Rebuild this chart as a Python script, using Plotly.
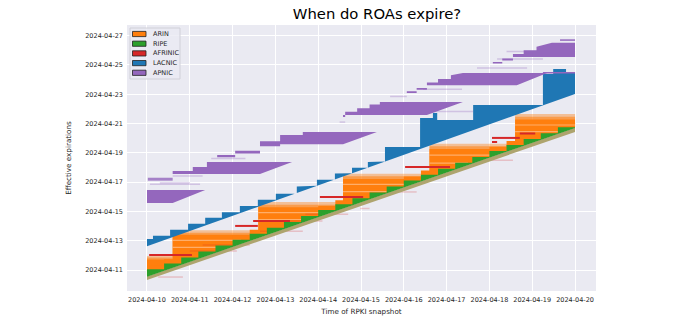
import numpy as np
import pandas as pd
import plotly.graph_objects as go

BASE = pd.Timestamp("2024-04-10 00:00")

# ---------------- data: days since 2024-04-10 00:00 (x = snapshot, y = expiry) ----------------
# ARIN (orange): refresh blocks every ~2 days + fine sawtooth
ARIN_BLOCK_T = [0.0, 0.6, 2.6, 4.58, 6.6, 8.6]
ARIN_TOP_LIGHT = [1.95, 3.72, 5.64, 7.58, 9.62, 11.65]
ARIN_TOP_MID = [1.85, 3.55, 5.45, 7.40, 9.45, 11.47]
ARIN_TOP_SOLID = [1.72, 3.40, 5.28, 7.22, 9.27, 11.27]
ARIN_STEP_T = [0.0, 0.4, 0.8, 1.2, 1.6, 2.0, 2.4, 2.8, 3.2, 3.6, 4.0, 4.4, 4.8,
               5.2, 5.6, 6.0, 6.4, 6.8, 7.2, 7.6, 8.0, 8.4, 8.8, 9.2, 9.6]
ARIN_STEP_TOP = [1.33, 1.73, 2.14, 2.54, 2.95, 3.35, 3.75, 4.16, 4.56, 4.97, 5.37, 5.77, 6.18,
                 6.58, 6.99, 7.39, 7.79, 8.20, 8.60, 9.00, 9.41, 9.81, 10.22, 10.62, 11.03]
ARIN_LOW_T = [0.0, 10.0]
ARIN_LOW_Y = [0.60, 10.75]
# lighter streaks inside the ARIN blocks
ARIN_STREAK_T0 = [0.6, 0.6, 2.6, 2.6, 4.58, 4.58, 6.6, 6.6, 8.6, 8.6]
ARIN_STREAK_T1 = [2.2, 1.7, 4.1, 3.6, 6.1, 5.6, 8.1, 7.5, 10.0, 9.7]
ARIN_STREAK_Y = [3.02, 2.55, 4.92, 4.45, 6.85, 6.35, 8.85, 8.30, 10.90, 10.45]

# RIPE (green): sawtooth above a diagonal floor
RIPE_STEP_T = [0.0, 0.4, 0.8, 1.2, 1.6, 2.0, 2.4, 2.8, 3.2, 3.6, 4.0, 4.4, 4.8,
               5.2, 5.6, 6.0, 6.4, 6.8, 7.2, 7.6, 8.0, 8.4, 8.8, 9.2, 9.6]
RIPE_STEP_TOP = [1.05, 1.45, 1.86, 2.26, 2.67, 3.07, 3.47, 3.88, 4.28, 4.69, 5.09, 5.49, 5.90,
                 6.30, 6.71, 7.11, 7.51, 7.92, 8.32, 8.72, 9.13, 9.53, 9.94, 10.34, 10.75]
RIPE_LOW_T = [0.0, 10.0]
RIPE_LOW_Y = [0.54, 10.70]
MIX_LOW_Y = [0.32, 10.43]     # faint mixed (olive) band below the green
MIX_HIGH_Y = [0.56, 10.72]

# AFRINIC (red): short horizontal runs (start, end, expiry)
AFRINIC_T0 = [0.05, 2.06, 2.48, 4.04, 6.03, 8.06, 8.71, 8.06]
AFRINIC_T1 = [1.05, 2.59, 3.34, 5.05, 7.08, 8.71, 9.07, 8.18]
AFRINIC_Y = [2.02, 4.01, 4.35, 5.99, 8.04, 10.02, 10.32, 9.74]
# faint pink streaks
FAINT_T0 = [0.26, 1.00, 2.64, 3.10, 4.98, 5.68, 7.78, 1.30, 3.70]
FAINT_T1 = [0.84, 2.10, 3.64, 4.10, 5.20, 6.30, 8.55, 2.40, 4.70]
FAINT_Y = [0.52, 2.30, 3.65, 4.35, 5.20, 6.33, 8.50, 2.70, 4.80]

# LACNIC (blue): step tops above a diagonal floor
LACNIC_STEP_T = [0.0, 0.14, 0.54, 0.96, 1.36, 1.75, 2.17, 2.59, 3.01, 3.50, 3.97, 4.39, 4.79,
                 5.16, 5.56, 6.38, 6.68, 6.78, 7.62, 9.25, 9.49, 9.79]
LACNIC_STEP_TOP = [3.12, 3.34, 3.74, 4.16, 4.56, 4.95, 5.37, 5.79, 6.21, 6.70, 7.17, 7.59, 7.99,
                   8.38, 9.40, 11.38, 11.72, 11.25, 12.27, 14.39, 14.73, 14.46]
LACNIC_LOW_T = [0.0, 10.0]
LACNIC_LOW_Y = [2.62, 13.02]

# APNIC (purple): parallelogram blocks (snapshot, low, high)
APNIC_A_T = [0.0, 0.6, 1.36]
APNIC_A_LO = [5.58, 5.58, 6.46]
APNIC_A_HI = [6.46, 6.46, 6.46]
APNIC_B_T = [0.6, 1.07, 1.07, 1.40, 1.40, 2.64, 3.39]
APNIC_B_LO = [7.55, 7.55, 7.55, 7.55, 7.55, 7.55, 8.38]
APNIC_B_HI = [7.76, 7.76, 8.04, 8.04, 8.38, 8.38, 8.38]
APNIC_B0_T = [0.02, 0.6]
APNIC_B0_LO = [7.10, 7.10]
APNIC_B0_HI = [7.30, 7.30]
APNIC_C_T = [1.64, 2.06, 2.06, 2.64, 2.64, 3.11, 3.11, 3.64, 3.64, 4.58, 5.37]
APNIC_C_LO = [8.70, 8.70, 8.95, 8.95, 9.45, 9.45, 9.58, 9.58, 9.58, 9.58, 10.43]
APNIC_C_HI = [8.85, 8.85, 9.15, 9.15, 9.80, 9.80, 10.22, 10.22, 10.43, 10.43, 10.43]
APNIC_D_T = [4.58, 4.63, 4.63, 4.91, 4.91, 5.20, 5.20, 5.44, 5.44, 6.54, 7.38]
APNIC_D_LO = [11.45, 11.45, 11.59, 11.59, 11.59, 11.59, 11.59, 11.59, 11.59, 11.59, 12.48]
APNIC_D_HI = [11.59, 11.59, 11.80, 11.80, 12.05, 12.05, 12.30, 12.30, 12.48, 12.48, 12.48]
APNIC_E_T = [6.07, 6.30, 6.30, 6.54, 6.54, 6.80, 6.80, 7.10, 7.10, 7.38, 8.64, 9.35]
APNIC_E_LO = [13.09, 13.09, 13.30, 13.30, 13.62, 13.62, 13.62, 13.62, 13.62, 13.62, 13.62, 14.46]
APNIC_E_HI = [13.20, 13.20, 13.42, 13.42, 13.80, 13.80, 14.05, 14.05, 14.30, 14.46, 14.46, 14.46]
APNIC_F_T = [8.08, 8.30, 8.30, 8.55, 8.55, 8.80, 8.80, 9.10, 9.10, 9.46, 10.0]
APNIC_F_LO = [15.10, 15.10, 15.30, 15.30, 15.55, 15.55, 15.55, 15.55, 15.55, 15.55, 15.55]
APNIC_F_HI = [15.20, 15.20, 15.45, 15.45, 15.75, 15.75, 16.00, 16.00, 16.25, 16.51, 16.51]
APNIC_LINE_T0 = [9.65, 9.25]
APNIC_LINE_T1 = [10.0, 10.0]
APNIC_LINE_Y = [16.70, 14.47]
APNIC_FAINT_T0 = [0.07, 0.60, 0.30, 1.50, 4.50, 5.68, 6.45, 6.68, 7.71, 8.18, 8.40]
APNIC_FAINT_T1 = [1.24, 1.30, 1.00, 2.30, 4.63, 6.07, 7.36, 7.62, 8.88, 9.25, 10.0]
APNIC_FAINT_Y = [6.85, 7.42, 6.95, 8.62, 11.10, 12.85, 13.35, 11.82, 14.80, 15.40, 15.92]

# axes
X_RANGE = [-0.467, 10.49]
Y_RANGE = [-0.434, 17.73]
LEGEND_NAMES = ["ARIN", "RIPE", "AFRINIC", "LACNIC", "APNIC"]
LEGEND_COLORS = ["#ff7f0e", "#2ca02c", "#d62728", "#1f77b4", "#9467bd"]


def dt(vals):
    return [(BASE + pd.Timedelta(days=float(v))).strftime("%Y-%m-%d %H:%M:%S") for v in vals]


def step_band(step_t, step_top, low_t, low_y, t_end):
    def low(x):
        return float(np.interp(x, low_t, low_y))
    xs, ys = [step_t[0]], [low(step_t[0])]
    n = len(step_t)
    for i in range(n):
        a = step_t[i]
        b = step_t[i + 1] if i + 1 < n else t_end
        top = step_top[i]
        la, lb = low(a), low(b)
        if top <= la:
            xs.append(a); ys.append(la)
            xs.append(b); ys.append(lb)
            continue
        xs.append(a); ys.append(top)
        if top > lb:
            xs.append(b); ys.append(top)
        else:
            xc = a + (top - la) / ((lb - la) / (b - a))
            xs.append(xc); ys.append(top)
            xs.append(b); ys.append(lb)
    xs.append(t_end); ys.append(low(t_end))
    return xs, ys


fig = go.Figure()


def add_poly(xs, ys, color):
    fig.add_trace(go.Scatter(x=dt(xs), y=dt(ys), mode="lines", fill="toself",
                             fillcolor=color, line=dict(width=0, color=color),
                             hoverinfo="skip", showlegend=False))


def add_between(t, lo, hi, color):
    add_poly(list(t) + list(t)[::-1], list(hi) + list(lo)[::-1], color)


def add_segments(t0, t1, y, color, width):
    xs, ys = [], []
    for a, b, v in zip(t0, t1, y):
        xs += [a, b, None]
        ys += [v, v, None]
    fig.add_trace(go.Scatter(x=[None if v is None else dt([v])[0] for v in xs],
                             y=[None if v is None else dt([v])[0] for v in ys],
                             mode="lines", line=dict(color=color, width=width),
                             connectgaps=False, hoverinfo="skip", showlegend=False))


# ARIN layers
add_poly(*step_band(ARIN_BLOCK_T, ARIN_TOP_LIGHT, ARIN_LOW_T, ARIN_LOW_Y, 10.0), "rgba(255,127,14,0.40)")
add_poly(*step_band(ARIN_BLOCK_T, ARIN_TOP_MID, ARIN_LOW_T, ARIN_LOW_Y, 10.0), "rgba(255,127,14,0.55)")
add_poly(*step_band(ARIN_BLOCK_T, ARIN_TOP_SOLID, ARIN_LOW_T, ARIN_LOW_Y, 10.0), "rgb(255,127,14)")
add_poly(*step_band(ARIN_STEP_T, ARIN_STEP_TOP, ARIN_LOW_T, ARIN_LOW_Y, 10.0), "rgb(255,127,14)")
add_segments(ARIN_STREAK_T0, ARIN_STREAK_T1, ARIN_STREAK_Y, "rgba(255,214,180,0.55)", 1.2)
# faint streaks
add_segments(FAINT_T0, FAINT_T1, FAINT_Y, "rgba(214,39,40,0.22)", 1.5)
# olive mixed band and RIPE
add_between([0.0, 10.0], MIX_LOW_Y, MIX_HIGH_Y, "rgb(174,164,110)")
add_poly(*step_band(RIPE_STEP_T, RIPE_STEP_TOP, RIPE_LOW_T, RIPE_LOW_Y, 10.0), "rgb(44,160,44)")
# AFRINIC
add_segments(AFRINIC_T0, AFRINIC_T1, AFRINIC_Y, "#d62728", 2)
# LACNIC
add_poly(*step_band(LACNIC_STEP_T, LACNIC_STEP_TOP, LACNIC_LOW_T, LACNIC_LOW_Y, 10.0), "rgb(31,119,180)")
# APNIC
add_segments(APNIC_FAINT_T0, APNIC_FAINT_T1, APNIC_FAINT_Y, "rgba(148,103,189,0.30)", 1.5)
for t, lo, hi in [(APNIC_A_T, APNIC_A_LO, APNIC_A_HI), (APNIC_B_T, APNIC_B_LO, APNIC_B_HI),
                  (APNIC_C_T, APNIC_C_LO, APNIC_C_HI), (APNIC_D_T, APNIC_D_LO, APNIC_D_HI),
                  (APNIC_E_T, APNIC_E_LO, APNIC_E_HI), (APNIC_F_T, APNIC_F_LO, APNIC_F_HI)]:
    add_between(t, lo, hi, "rgb(148,103,189)")
add_between(APNIC_B0_T, APNIC_B0_LO, APNIC_B0_HI, "rgba(148,103,189,0.8)")
add_segments(APNIC_LINE_T0, APNIC_LINE_T1, APNIC_LINE_Y, "rgb(148,103,189)", 1.5)

FONT = "DejaVu Sans"
TXT = "#262626"

fig.update_layout(
    width=680, height=330,
    margin=dict(l=127, r=84, t=25, b=39),
    paper_bgcolor="white", plot_bgcolor="#EAEAF2",
    font=dict(family=FONT, color=TXT, size=7),
    title=dict(text="When do ROAs expire?", x=0.533, xref="paper", xanchor="center",
               y=1 - 14 / 330, yref="container", yanchor="middle",
               font=dict(size=14.8, family=FONT, color="black")),
    showlegend=False,
)
fig.update_xaxes(type="date", range=dt(X_RANGE), tick0="2024-04-10", dtick=86400000,
                 tickformat="%Y-%m-%d", showgrid=True, gridcolor="white", gridwidth=1,
                 zeroline=False, showline=False, ticks="", ticklen=0, tickfont=dict(size=6.5),
                 ticklabelstandoff=3,
                 title=dict(text="Time of RPKI snapshot", font=dict(size=7.2), standoff=6))
fig.update_yaxes(type="date", range=dt(Y_RANGE), tick0="2024-04-11", dtick=2 * 86400000,
                 tickformat="%Y-%m-%d", showgrid=True, gridcolor="white", gridwidth=1,
                 zeroline=False, showline=False, ticks="", ticklen=0, tickfont=dict(size=6.5),
                 ticklabelstandoff=3,
                 title=dict(text="Effective expirations", font=dict(size=7.2), standoff=12))

# legend (drawn in plot-area coordinates)
W, H = 469.0, 266.0
def px(xp): return (xp - 127) / W
def py(yp): return (291 - yp) / H

fig.add_shape(type="rect", xref="paper", yref="paper", x0=px(130), x1=px(180), y0=py(79), y1=py(28),
              fillcolor="rgba(234,234,242,0.8)", line=dict(color="#d0d0d8", width=1), layer="above")
for i, (name, col) in enumerate(zip(LEGEND_NAMES, LEGEND_COLORS)):
    cy = 34 + i * 9.7
    fig.add_shape(type="rect", xref="paper", yref="paper", x0=px(132.5), x1=px(146), y0=py(cy + 2.6),
                  y1=py(cy - 2.6), fillcolor=col, line=dict(color="#222222", width=0.8), layer="above")
    fig.add_annotation(text=name, xref="paper", yref="paper", x=px(150.5), y=py(cy), xanchor="left",
                       yanchor="middle", showarrow=False, font=dict(size=6.5, family=FONT, color=TXT))

fig.write_html("out.html")
